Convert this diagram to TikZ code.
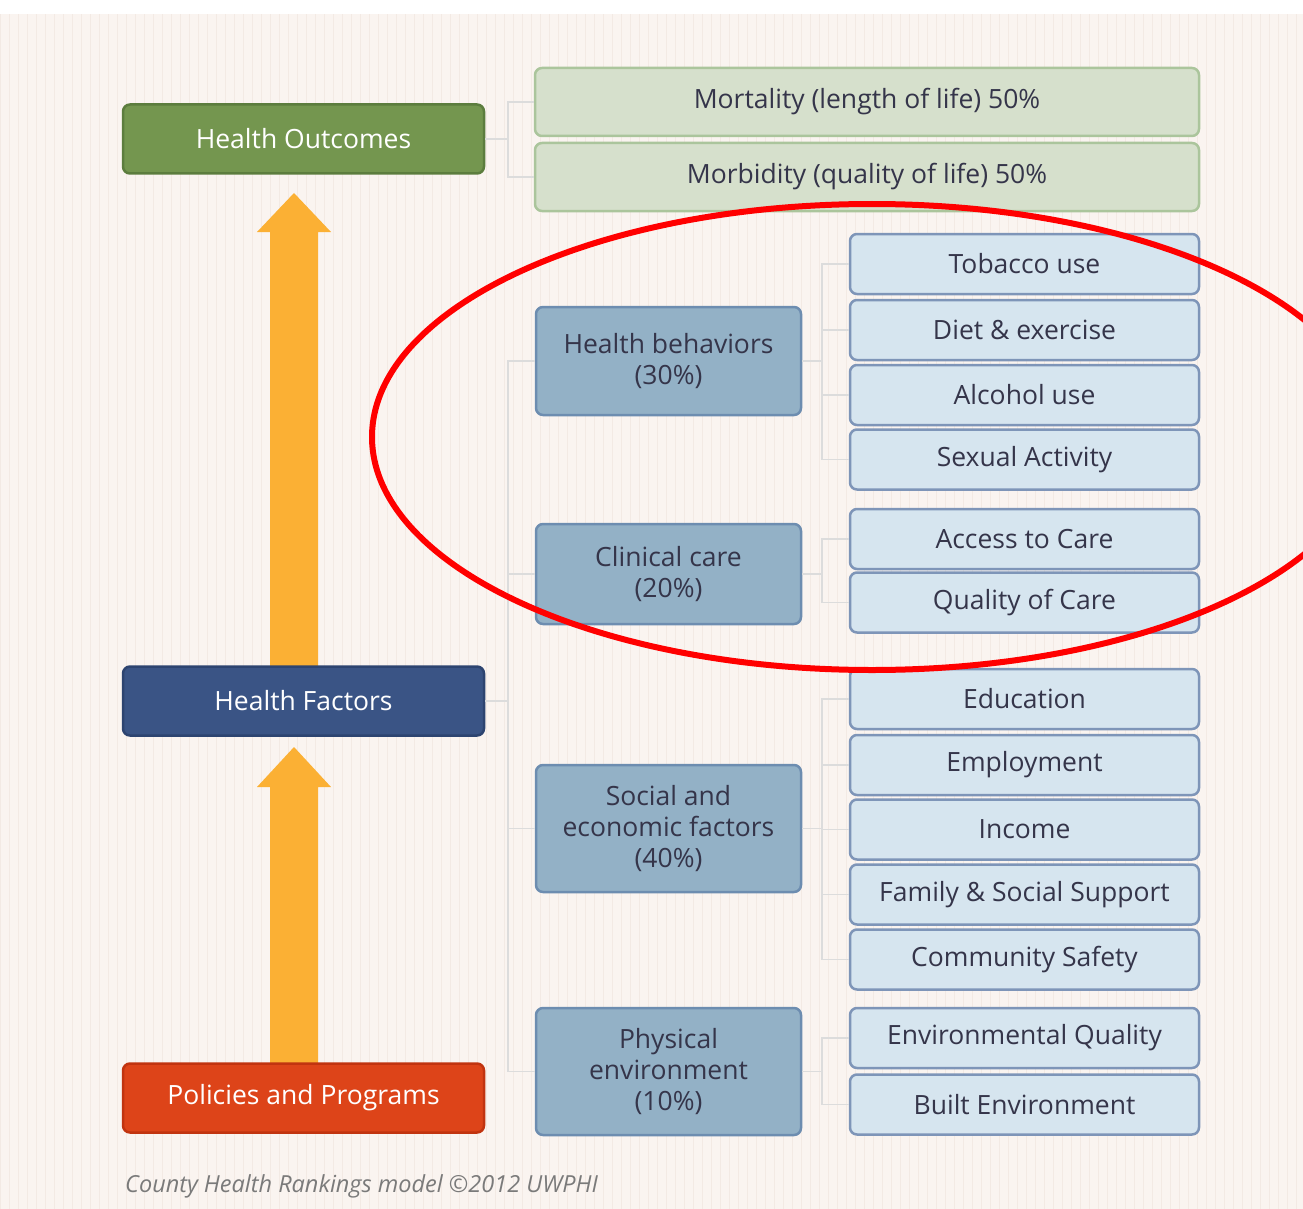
\documentclass[tikz,border=0pt]{standalone}
\usepackage{fontspec}
\setmainfont{Open Sans}
\definecolor{bgc}{HTML}{FAF4F0}
\definecolor{gridc}{HTML}{F3EAE4}
\definecolor{linkc}{HTML}{DCDCDC}
\definecolor{greenf}{HTML}{74964F}
\definecolor{greend}{HTML}{5C7D3E}
\definecolor{bluef}{HTML}{3A5485}
\definecolor{blued}{HTML}{2D4470}
\definecolor{redf}{HTML}{DD4419}
\definecolor{redd}{HTML}{C13410}
\definecolor{lgreenf}{HTML}{D6E0CC}
\definecolor{lgreend}{HTML}{ABC59C}
\definecolor{catf}{HTML}{93B1C6}
\definecolor{catd}{HTML}{6D8DB0}
\definecolor{leaff}{HTML}{D6E5EF}
\definecolor{leafd}{HTML}{7E95B8}
\definecolor{txtc}{HTML}{35354A}
\definecolor{arrowc}{HTML}{FBB034}
\definecolor{footc}{HTML}{7A7A7A}
\begin{document}
\begin{tikzpicture}[x=1pt,y=-1pt,
  base/.style={rounded corners=7pt, line width=2.5pt, align=center, inner sep=2pt, font=\fontsize{26.5}{31}\selectfont},
  mainbox/.style={base, text=white, minimum width=361, minimum height=69},
  subbox/.style={base, fill=lgreenf, draw=lgreend, text=txtc, minimum width=664, minimum height=68},
  catbox/.style={base, fill=catf, draw=catd, text=txtc, minimum width=265},
  leafbox/.style={base, fill=leaff, draw=leafd, text=txtc, minimum width=349, minimum height=60},
  link/.style={draw=linkc, line width=1.5pt},
  bigarrow/.style={fill=arrowc, draw=none}
]
\useasboundingbox (0,0) rectangle (1303,1209);
\fill[bgc] (0,0) rectangle (1303,1209);
\begin{scope}
\clip (0,14) rectangle (1303,1209);
\draw[gridc, line width=0.8pt, step=9] (0,0) grid (1303,1209);
\end{scope}
\fill[white] (0,0) rectangle (1303,14);

% arrows
\fill[bigarrow] (270,666) -- (270,232) -- (257,232) -- (294,193) -- (331,232) -- (318,232) -- (318,666) -- cycle;
\fill[bigarrow] (270,1063) -- (270,787) -- (257,787) -- (294,747) -- (331,787) -- (318,787) -- (318,1063) -- cycle;

% main boxes
\node[mainbox, fill=greenf, draw=greend] (ho) at (303.5,139) {Health Outcomes};
\node[mainbox, fill=bluef, draw=blued] (hf) at (303.5,701) {Health Factors};
\node[mainbox, fill=redf, draw=redd] (pp) at (303.5,1098) {Policies and Programs};

% outcomes
\node[subbox] (mort) at (867,102) {Mortality (length of life) 50\%};
\node[subbox] (morb) at (867,177) {Morbidity (quality of life) 50\%};

% categories
\node[catbox, minimum height=108] (hb) at (668.5,361) {Health behaviors\\(30\%)};
\node[catbox, minimum height=100] (cc) at (668.5,574) {Clinical care\\(20\%)};
\node[catbox, minimum height=127] (se) at (668.5,828.5) {Social and\\economic factors\\(40\%)};
\node[catbox, minimum height=127] (pe) at (668.5,1071.5) {Physical\\environment\\(10\%)};

% leaves
\node[leafbox] (tob) at (1024.5,264) {Tobacco use};
\node[leafbox] (diet) at (1024.5,330) {Diet \& exercise};
\node[leafbox] (alc) at (1024.5,395) {Alcohol use};
\node[leafbox] (sex) at (1024.5,459.5) {Sexual Activity};
\node[leafbox] (acc) at (1024.5,539) {Access to Care};
\node[leafbox] (qoc) at (1024.5,602.5) {Quality of Care};
\node[leafbox] (edu) at (1024.5,699) {Education};
\node[leafbox] (emp) at (1024.5,765) {Employment};
\node[leafbox] (inc) at (1024.5,829.5) {Income};
\node[leafbox] (fam) at (1024.5,894.5) {Family \& Social Support};
\node[leafbox] (com) at (1024.5,959.5) {Community Safety};
\node[leafbox] (env) at (1024.5,1038) {Environmental Quality};
\node[leafbox] (blt) at (1024.5,1104.5) {Built Environment};

% connectors
\coordinate (jo) at (508,139);
\draw[link] (ho.east) -- (jo);
\draw[link] (jo) |- (mort.west);
\draw[link] (jo) |- (morb.west);

\coordinate (jf) at (508,701);
\draw[link] (hf.east) -- (jf);
\foreach \c in {hb,cc,se,pe} \draw[link] (jf) |- (\c.west);

\coordinate (jhb) at (822,361);
\draw[link] (hb.east) -- (jhb);
\foreach \c in {tob,diet,alc,sex} \draw[link] (jhb) |- (\c.west);

\coordinate (jcc) at (822,574);
\draw[link] (cc.east) -- (jcc);
\foreach \c in {acc,qoc} \draw[link] (jcc) |- (\c.west);

\coordinate (jse) at (822,828.5);
\draw[link] (se.east) -- (jse);
\foreach \c in {edu,emp,inc,fam,com} \draw[link] (jse) |- (\c.west);

\coordinate (jpe) at (822,1071.5);
\draw[link] (pe.east) -- (jpe);
\foreach \c in {env,blt} \draw[link] (jpe) |- (\c.west);

% footer
\node[anchor=west, text=footc, font=\fontsize{23.5}{27}\selectfont\itshape, inner sep=0] (foot) at (125,1186) {County Health Rankings model ©2012 UWPHI};

% red ellipse
\begin{scope}
\clip (0,0) rectangle (1303,1209);
\draw[red, line width=6pt] (872,437) ellipse [x radius=500, y radius=233];
\end{scope}
\end{tikzpicture}
\end{document}
